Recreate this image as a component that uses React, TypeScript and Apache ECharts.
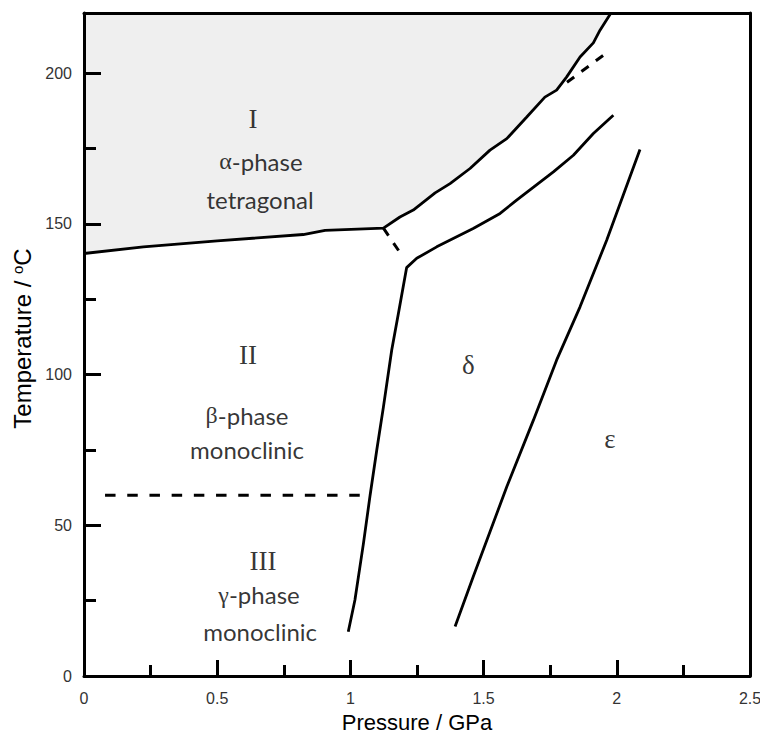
import React, { useEffect, useRef } from "react";
import * as echarts from "echarts";

// Phase boundaries: [pressure (GPa), temperature (°C)]
const boundaryItoII: [number, number][] = [
  [0, 140.2], [0.223, 142.4], [0.5, 144.4], [0.823, 146.5], [0.905, 147.9], [1.124, 148.6],
];
const boundaryIUpper: [number, number][] = [
  [1.124, 148.6], [1.186, 152.3], [1.236, 154.6], [1.318, 160.3], [1.374, 163.4],
  [1.449, 168.4], [1.524, 174.5], [1.587, 178.3], [1.662, 185.5], [1.730, 192.1],
  [1.774, 194.4], [1.812, 198.8], [1.862, 205.4], [1.912, 210.1], [1.937, 214.3], [1.978, 220],
];
const boundaryIItoDelta: [number, number][] = [
  [0.992, 14.7], [1.017, 25.2], [1.049, 44.0], [1.074, 60.0], [1.099, 75.0],
  [1.124, 89.3], [1.155, 108.1], [1.180, 120.2], [1.211, 135.5],
];
const boundaryDeltaUpper: [number, number][] = [
  [1.211, 135.5], [1.249, 138.6], [1.324, 142.4], [1.461, 148.5], [1.562, 153.5],
  [1.624, 157.9], [1.762, 167.3], [1.837, 172.8], [1.912, 180.0], [1.987, 186.1],
];
const boundaryDeltaEpsilon: [number, number][] = [
  [1.393, 16.4], [1.461, 32.9], [1.587, 62.8], [1.687, 84.9], [1.774, 104.8],
  [1.862, 122.5], [1.962, 144.6], [2.087, 174.7],
];
const boundaryIItoIII: [number, number][] = [[0.079, 60], [1.042, 60]];
const tripleExtension: [number, number][] = [[1.124, 148.6], [1.193, 139.6]];
const upperExtension: [number, number][] = [[1.813, 197.0], [1.974, 207.6]];

// Region labels
const regionNumerals = ["I", "II", "III", "δ", "ε"];
const regionNumeralPos: [number, number][] = [
  [0.634, 184.7], [0.616, 106.5], [0.672, 38.1], [1.443, 103.2], [1.974, 78.8],
];
const phaseLetters = ["α", "β", "γ"];
const phaseLetterPos: [number, number][] = [[0.664, 170.8], [0.612, 86.6], [0.657, 26.9]];
const crystalSystems = ["tetragonal", "monoclinic", "monoclinic"];
const crystalSystemPos: [number, number][] = [[0.661, 158.2], [0.612, 75.0], [0.661, 14.9]];

const SANS = "'Liberation Sans', Arial, sans-serif";
const SERIF = "'Liberation Serif', 'Times New Roman', serif";
const LABEL_SANS = "Lato, 'Open Sans', sans-serif";

const solid = (data: [number, number][], extra: any = {}) => ({
  type: "line",
  data,
  showSymbol: false,
  symbol: "none",
  silent: true,
  lineStyle: { color: "#000", width: 2.8 },
  z: 3,
  ...extra,
});

const dashed = (data: [number, number][], dash: number[]) => ({
  type: "line",
  data,
  showSymbol: false,
  symbol: "none",
  silent: true,
  lineStyle: { color: "#000", width: 3, type: dash },
  z: 3,
});

const textSeries = (pos: [number, number][], texts: string[], label: any) => ({
  type: "scatter",
  symbolSize: 0,
  silent: true,
  z: 5,
  data: pos.map((p, i) => ({ value: p, name: texts[i] })),
  label: { show: true, position: "inside", formatter: (d: any) => d.name, color: "#000", ...label },
});

export default function App() {
  const ref = useRef<HTMLDivElement>(null);

  useEffect(() => {
    if (!ref.current) return;
    const chart = echarts.init(ref.current, undefined, { renderer: "svg" });

    const axisLine = { show: true, onZero: false, lineStyle: { color: "#000", width: 3 } };

    chart.setOption({
      animation: false,
      backgroundColor: "#fff",
      grid: { left: 84, right: 10, top: 13, bottom: 58, outerBoundsMode: "none", containLabel: false },
      xAxis: [
        {
          type: "value",
          min: 0,
          max: 2.5,
          interval: 0.5,
          z: 10,
          axisLine,
          axisTick: { show: true, inside: true, length: 16, lineStyle: { color: "#000", width: 3 } },
          minorTick: { show: true, splitNumber: 2, length: 11, lineStyle: { color: "#000", width: 3 } },
          splitLine: { show: false },
          minorSplitLine: { show: false },
          axisLabel: { color: "#333", fontSize: 16, fontFamily: SANS, margin: 14 },
          name: "Pressure / GPa",
          nameLocation: "middle",
          nameGap: 35,
          nameMoveOverlap: false,
          nameTextStyle: { color: "#000", fontSize: 22, fontFamily: SANS, lineHeight: 22 },
        },
        {
          type: "value",
          position: "top",
          min: 0,
          max: 2.5,
          z: 10,
          axisLine,
          axisTick: { show: false },
          axisLabel: { show: false },
          splitLine: { show: false },
        },
      ],
      yAxis: [
        {
          type: "value",
          min: 0,
          max: 220,
          interval: 50,
          z: 10,
          axisLine,
          axisTick: { show: true, inside: true, length: 17, lineStyle: { color: "#000", width: 3 } },
          minorTick: { show: true, splitNumber: 2, length: 12, lineStyle: { color: "#000", width: 3 } },
          splitLine: { show: false },
          minorSplitLine: { show: false },
          axisLabel: { color: "#333", fontSize: 16, fontFamily: SANS, margin: 12, showMaxLabel: false },
          name: "Temperature / {sup|o}C",
          nameLocation: "middle",
          nameGap: 49,
          nameTextStyle: {
            color: "#000",
            fontSize: 24,
            fontFamily: SANS,
            padding: [0, 0, 0, 12],
            rich: {
              sup: { fontSize: 15, fontFamily: SANS, color: "#000", padding: [0, 0, 10, 0] },
            },
          },
        },
        {
          type: "value",
          position: "right",
          min: 0,
          max: 220,
          z: 10,
          axisLine,
          axisTick: { show: false },
          axisLabel: { show: false },
          splitLine: { show: false },
        },
      ],
      series: [
        // Region I: shaded above its boundary up to the top of the plot
        solid([...boundaryItoII, ...boundaryIUpper.slice(1)], {
          areaStyle: { color: "#efefef", opacity: 1, origin: "end" },
          z: 2,
        }),
        solid([...boundaryIItoDelta, ...boundaryDeltaUpper.slice(1)]),
        solid(boundaryDeltaEpsilon),
        dashed(boundaryIItoIII, [10.5, 11.7]),
        dashed(tripleExtension, [9, 9]),
        dashed(upperExtension, [9, 9]),
        textSeries(regionNumeralPos, regionNumerals, { fontFamily: SERIF, fontSize: 27 }),
        textSeries(phaseLetterPos, phaseLetters, {
          formatter: (d: any) => `{g|${d.name}}{s|-phase}`,
          rich: {
            g: { fontFamily: SERIF, fontSize: 24, color: "#000" },
            s: { fontFamily: LABEL_SANS, fontSize: 24, color: "#000" },
          },
        }),
        textSeries(crystalSystemPos, crystalSystems, { fontFamily: LABEL_SANS, fontSize: 24 }),
      ],
    });

    return () => chart.dispose();
  }, []);

  return (
    <div
      ref={ref}
      style={{ position: "absolute", left: 0, top: 0, width: 760, height: 734 }}
    />
  );
}
